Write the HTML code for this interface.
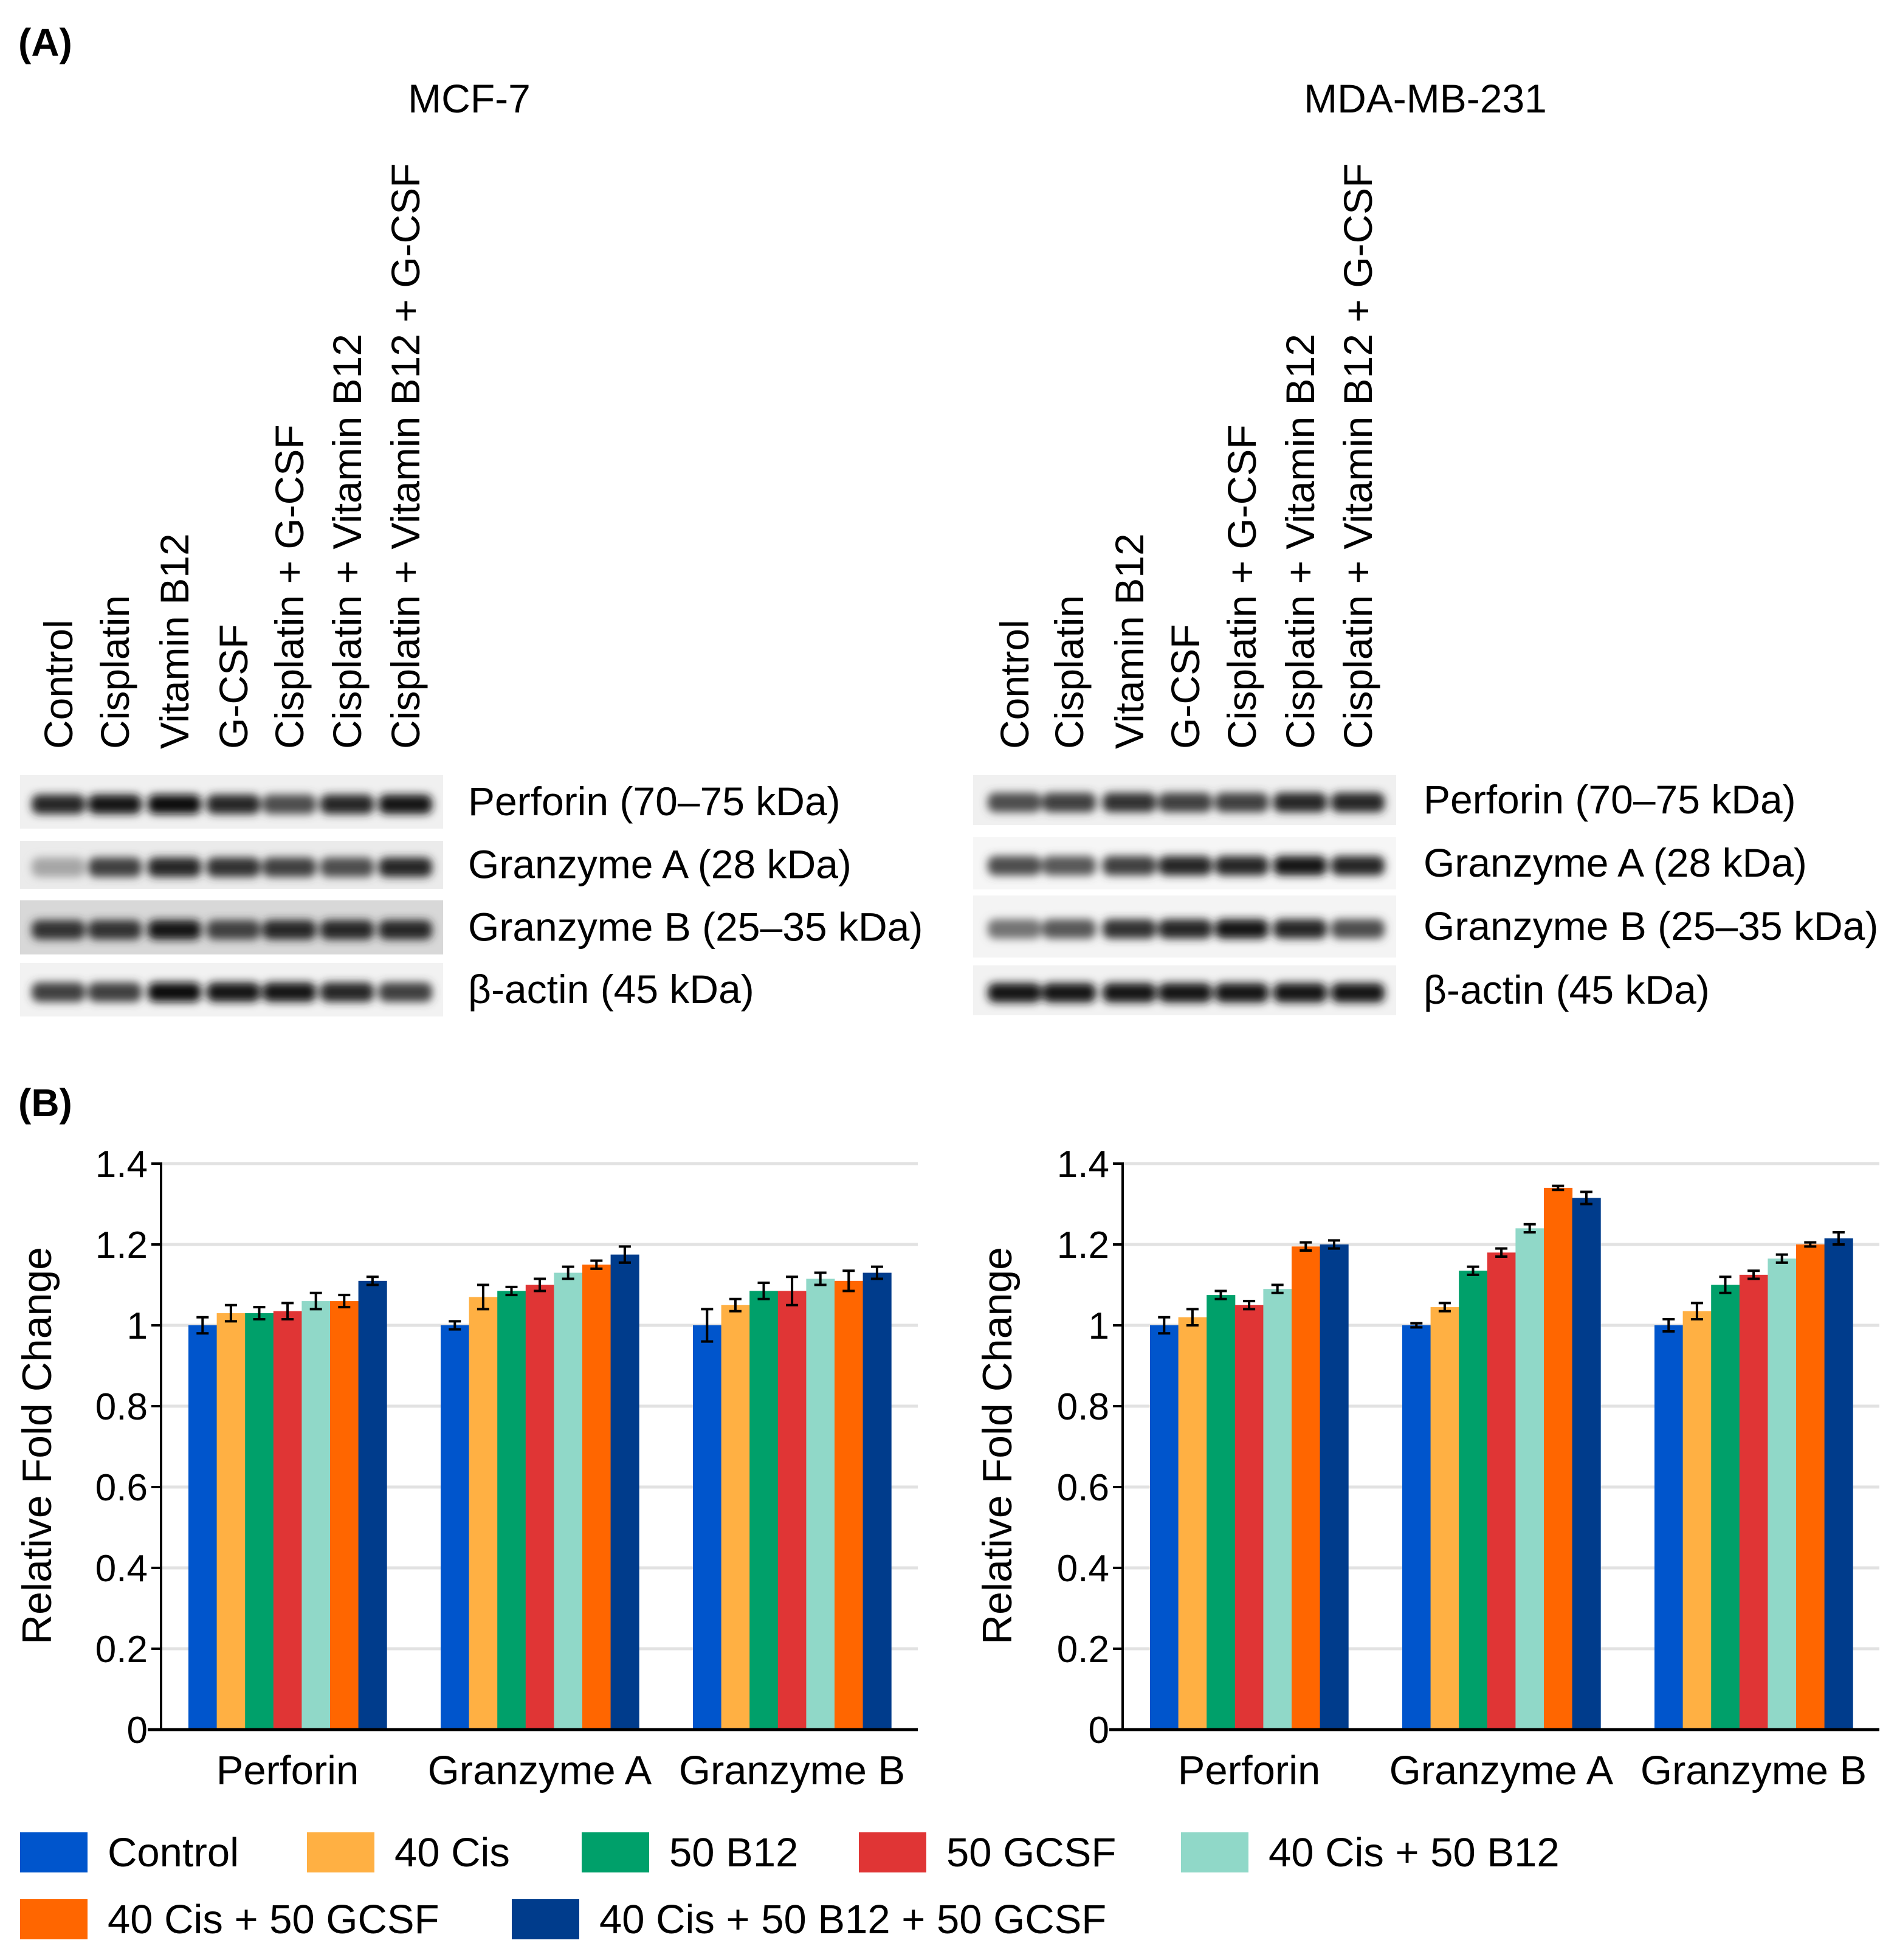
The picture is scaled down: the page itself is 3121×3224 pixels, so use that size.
<!DOCTYPE html>
<html><head><meta charset="utf-8"><style>
html,body{margin:0;padding:0;background:#fff;}
svg{display:block;font-family:"Liberation Sans",sans-serif;}
</style></head><body>
<svg id="fig" width="3121" height="3224" viewBox="0 0 3121 3224" xmlns="http://www.w3.org/2000/svg">
<defs><filter id="blur" x="-20%" y="-50%" width="140%" height="200%"><feGaussianBlur stdDeviation="7"/></filter></defs>
<text x="30" y="92" font-size="64" font-weight="bold">(A)</text>
<text x="30" y="1836" font-size="64" font-weight="bold">(B)</text>
<text x="772" y="185" font-size="66" text-anchor="middle">MCF-7</text>
<text x="2345" y="185" font-size="66" text-anchor="middle">MDA-MB-231</text>
<g id="blots"></g>
<g id="charts"></g>
<g id="legend"></g>
</svg>
<script>
const NS='http://www.w3.org/2000/svg';
const svg=document.getElementById('fig');
function mk(tag,attrs,parent,text){const e=document.createElementNS(NS,tag);for(const k in attrs)e.setAttribute(k,attrs[k]);if(text!==undefined)e.textContent=text;(parent||svg).appendChild(e);return e;}

// ---- Chart data ----
const categories=['Perforin','Granzyme A','Granzyme B'];
const seriesNames=['Control','40 Cis','50 B12','50 GCSF','40 Cis + 50 B12','40 Cis + 50 GCSF','40 Cis + 50 B12 + 50 GCSF'];
const colors=['#0055cc','#ffb043','#00a06a','#e03535','#90d8c8','#ff6600','#003c8c'];
const yTicks=[0,0.2,0.4,0.6,0.8,1,1.2,1.4];
const yTickLabels=['0','0.2','0.4','0.6','0.8','1','1.2','1.4'];
const mcfPerforin=[1.0,1.03,1.03,1.035,1.06,1.06,1.11];
const mcfGranzymeA=[1.0,1.07,1.085,1.10,1.13,1.15,1.175];
const mcfGranzymeB=[1.0,1.05,1.085,1.085,1.115,1.11,1.13];
const mcfErrPerforin=[0.02,0.02,0.015,0.02,0.02,0.015,0.01];
const mcfErrGranzymeA=[0.01,0.03,0.01,0.015,0.015,0.01,0.02];
const mcfErrGranzymeB=[0.04,0.015,0.02,0.035,0.015,0.025,0.015];
const mdaPerforin=[1.0,1.02,1.075,1.05,1.09,1.195,1.20];
const mdaGranzymeA=[1.0,1.045,1.135,1.18,1.24,1.34,1.315];
const mdaGranzymeB=[1.0,1.035,1.10,1.125,1.165,1.20,1.215];
const mdaErrPerforin=[0.02,0.02,0.01,0.01,0.01,0.01,0.01];
const mdaErrGranzymeA=[0.005,0.01,0.01,0.01,0.01,0.005,0.015];
const mdaErrGranzymeB=[0.015,0.02,0.02,0.01,0.01,0.005,0.015];

function chart(prefix,axisX,vals,errs,titleX){
  const g=mk('g',{},document.getElementById('charts'));
  
  
  const y0=2845,y1=1914,ymax=1.4;
  const yS=v=>y0-(v/ymax)*(y0-y1);
  const right=axisX+1245;
  yTicks.forEach((t,i)=>{
    if(t>0){const gl=mk('line',{x1:axisX,x2:right,y1:yS(t),y2:yS(t),stroke:'#e2e2e2','stroke-width':5},g);
    }
    const tk=mk('line',{x1:axisX-16,x2:axisX,y1:yS(t),y2:yS(t),stroke:'#000','stroke-width':4},g);
    
    const tl=mk('text',{x:axisX-22,y:yS(t)+22,'font-size':62,'text-anchor':'end'},g,yTickLabels[i]);
    
  });
  const bw=46.6;
  categories.forEach((c,ci)=>{
    const gs=axisX+45+ci*415;
    vals[ci].forEach((v,si)=>{
      const x=gs+si*bw;
      const r=mk('rect',{x:x,y:yS(v),width:bw+0.5,height:y0-yS(v),fill:colors[si]},g);
      
      
      const e=errs[ci][si],cx=x+bw/2;
      const eb=mk('path',{d:`M${cx},${yS(v+e)}V${yS(v-e)}M${cx-10},${yS(v+e)}H${cx+10}M${cx-10},${yS(v-e)}H${cx+10}`,stroke:'#000','stroke-width':4,fill:'none'},g);
      
      
    });
    const cl=mk('text',{x:gs+163,y:2935,'font-size':67,'text-anchor':'middle'},g,c);
    
    
  });
  const ya=mk('line',{x1:axisX,x2:axisX,y1:y1-2,y2:y0,stroke:'#000','stroke-width':4},g);
  
  const xa=mk('line',{x1:axisX-22,x2:right,y1:y0,y2:y0,stroke:'#000','stroke-width':5},g);
  
  const yt=mk('text',{x:0,y:0,'font-size':68,'text-anchor':'middle',transform:`translate(${titleX},2378) rotate(-90)`},g,'Relative Fold Change');
  
}
chart('mcf7',265,[mcfPerforin,mcfGranzymeA,mcfGranzymeB],[mcfErrPerforin,mcfErrGranzymeA,mcfErrGranzymeB],84);
chart('mda',1847,[mdaPerforin,mdaGranzymeA,mdaGranzymeB],[mdaErrPerforin,mdaErrGranzymeA,mdaErrGranzymeB],1664);

// ---- Legend ----
const legendPos=[[33,3047],[505,3047],[957,3047],[1413,3047],[1943,3047],[33,3157],[842,3157]];
const lg=document.getElementById('legend');
seriesNames.forEach((n,i)=>{
  const [x,y]=legendPos[i];
  const g=mk('g',{},lg);
  
  
  mk('rect',{x:x,y:y-33,width:111,height:66,fill:colors[i]},g);
  mk('text',{x:x+144,y:y+23,'font-size':67},g,n);
});

// ---- Western blots ----
const lanes=['Control','Cisplatin','Vitamin B12','G-CSF','Cisplatin + G-CSF','Cisplatin + Vitamin B12','Cisplatin + Vitamin B12 + G-CSF'];
const proteins=['Perforin (70–75 kDa)','Granzyme A (28 kDa)','Granzyme B (25–35 kDa)','β-actin (45 kDa)'];
const mcfIntensity=[[0.85,0.9,0.95,0.85,0.7,0.85,0.9],[0.35,0.75,0.85,0.8,0.75,0.7,0.85],[0.8,0.8,0.9,0.75,0.85,0.85,0.85],[0.75,0.75,0.95,0.9,0.9,0.85,0.75]];
const mdaIntensity=[[0.7,0.75,0.8,0.75,0.75,0.85,0.85],[0.7,0.65,0.75,0.85,0.85,0.9,0.85],[0.55,0.65,0.8,0.85,0.9,0.85,0.7],[0.9,0.9,0.9,0.9,0.9,0.9,0.9]];
const mcfBg=['#f0f0f0','#ebebeb','#d8d8d8','#f2f2f2'];
const mdaBg=['#f0f0f0','#f6f6f6','#f4f4f4','#f2f2f2'];
function blots(prefix,x0,x1,laneX,rows,intens,bg,labelX){
  const bl=document.getElementById('blots');
  rows.forEach((r,ri)=>{
    const g=mk('g',{},bl);
    
    
    mk('rect',{x:x0,y:r[0],width:x1-x0,height:r[1]-r[0],fill:bg[ri]},g);
    const bg2=mk('g',{filter:'url(#blur)'},g);
    const cy=(r[0]+r[1])/2+4;
    laneX.forEach((lx,li)=>{
      const k=Math.round(255*(1-intens[ri][li]));
      mk('rect',{x:lx-44,y:cy-16,width:88,height:32,rx:12,fill:`rgb(${k},${k},${k})`},bg2);
    });
    const t=mk('text',{x:labelX,y:(r[0]+r[1])/2+22,'font-size':66},g,proteins[ri]);
    
    
  });
  laneX.forEach((lx,li)=>{
    const t=mk('text',{'font-size':66,transform:`translate(${lx+23},1232) rotate(-90)`},bl,lanes[li]);
    
    
  });
}
blots('mcf7',33,729,[96,189,287,384,476,571,667],[[1275,1363],[1383,1462],[1481,1570],[1584,1672]],mcfIntensity,mcfBg,770);
blots('mda',1601,2297,[1669,1759,1858,1950,2043,2139,2234],[[1275,1357],[1377,1463],[1473,1575],[1588,1670]],mdaIntensity,mdaBg,2342);
</script>
</body></html>
